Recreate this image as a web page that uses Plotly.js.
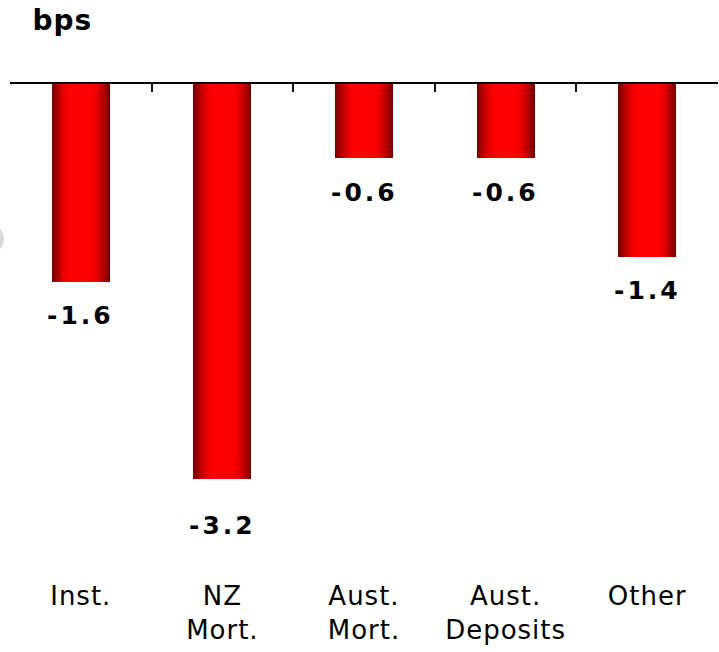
<!DOCTYPE html>
<html>
<head>
<meta charset="utf-8">
<script src="https://cdn.plot.ly/plotly-3.0.1.min.js"></script>
<style>
  html, body { margin: 0; padding: 0; background: #fff; }
  #chart { width: 719px; height: 652px; }
  #chart text.annotation-text { letter-spacing: 3px; }
  #chart g.annotation[data-index="5"] text.annotation-text { letter-spacing: 1px; }
  #chart g.x2tick text { letter-spacing: 1px; }
</style>
</head>
<body>
<div id="chart"></div>
<script>
// Contribution to margin change by category, in basis points
const categories = ['Inst.', 'NZ<br>Mort.', 'Aust.<br>Mort.', 'Aust.<br>Deposits', 'Other'];
const values = [-1.6, -3.2, -0.6, -0.6, -1.4];
const unitLabel = 'bps';

// Bar shading: stacked overlay layers, dark red at the edges to bright red in the middle
const barWidth = 0.41;
const layers = 22;
const edgeRGB = [118, 0, 0];
const coreRGB = [255, 0, 0];
const coreFrac = 0.3;

const idx = categories.map((_, i) => i);
const traces = [];
for (let k = 0; k < layers; k++) {
  const t = k / (layers - 1);                 // 0 = outer edge, 1 = bright core
  const r = 1 - t * (1 - coreFrac);           // relative half-width of this layer
  const s = Math.sin(t * Math.PI / 2);
  const c = edgeRGB.map((e, j) => Math.round(e + (coreRGB[j] - e) * s));
  traces.push({
    type: 'bar',
    x: idx,
    y: values,
    width: barWidth * r,
    marker: { color: `rgb(${c.join(',')})`, line: { width: 0 } },
    hoverinfo: 'skip',
    showlegend: false
  });
}

// Value labels under each bar
const labelShift = values.map(v => v <= Math.min(...values) ? -46 : -34);
const annotations = values.map((v, i) => ({
  x: i, y: v, xref: 'x', yref: 'y',
  text: '<b>' + v.toFixed(1) + '</b>',
  showarrow: false,
  yshift: labelShift[i],
  xanchor: 'center', yanchor: 'middle',
  font: { family: 'DejaVu Sans', size: 25, color: '#000' }
}));
annotations.push({
  x: 0.031, y: 1, xref: 'paper', yref: 'paper',
  text: '<b>' + unitLabel + '</b>',
  showarrow: false,
  xanchor: 'left', yanchor: 'middle', yshift: 64,
  font: { family: 'DejaVu Sans', size: 28, color: '#000' }
});

const layout = {
  width: 719, height: 652,
  margin: { l: 10, r: 1, t: 84, b: 74 },
  paper_bgcolor: '#fff', plot_bgcolor: '#fff',
  barmode: 'overlay',
  bargap: 0,
  xaxis: {
    type: 'linear',
    range: [-0.5, categories.length - 0.5],
    side: 'top',
    showline: true, linecolor: '#000', linewidth: 2,
    ticks: 'inside', ticklen: 8, tickwidth: 2, tickcolor: '#111',
    tickvals: idx.map(i => i - 0.5).concat([categories.length - 0.5]),
    showticklabels: false,
    showgrid: false, zeroline: false, fixedrange: true
  },
  xaxis2: {
    overlaying: 'x', anchor: 'free', position: 0, side: 'bottom',
    type: 'linear',
    range: [-0.5, categories.length - 0.5],
    tickvals: idx, ticktext: categories,
    ticks: '', showline: false, showgrid: false, zeroline: false,
    tickfont: { family: 'DejaVu Sans', size: 26, color: '#000' }
  },
  yaxis: {
    range: [-4, 0],
    showline: false, showgrid: false, zeroline: false,
    showticklabels: false, ticks: '', fixedrange: true
  },
  annotations: annotations,
  shapes: [{
    type: 'circle', xref: 'paper', yref: 'paper',
    xsizemode: 'pixel', ysizemode: 'pixel',
    xanchor: 0, yanchor: 1,
    x0: -36, x1: -6, y0: -140, y1: -170,
    fillcolor: 'rgba(200,200,200,0.7)', line: { width: 0 }, layer: 'below'
  }]
};

// Empty trace on the lower axis so its category labels are drawn
traces.push({ type: 'scatter', x: [], y: [], xaxis: 'x2', yaxis: 'y', hoverinfo: 'skip', showlegend: false });

Plotly.newPlot('chart', traces, layout, { displayModeBar: false, staticPlot: true });
</script>
</body>
</html>
